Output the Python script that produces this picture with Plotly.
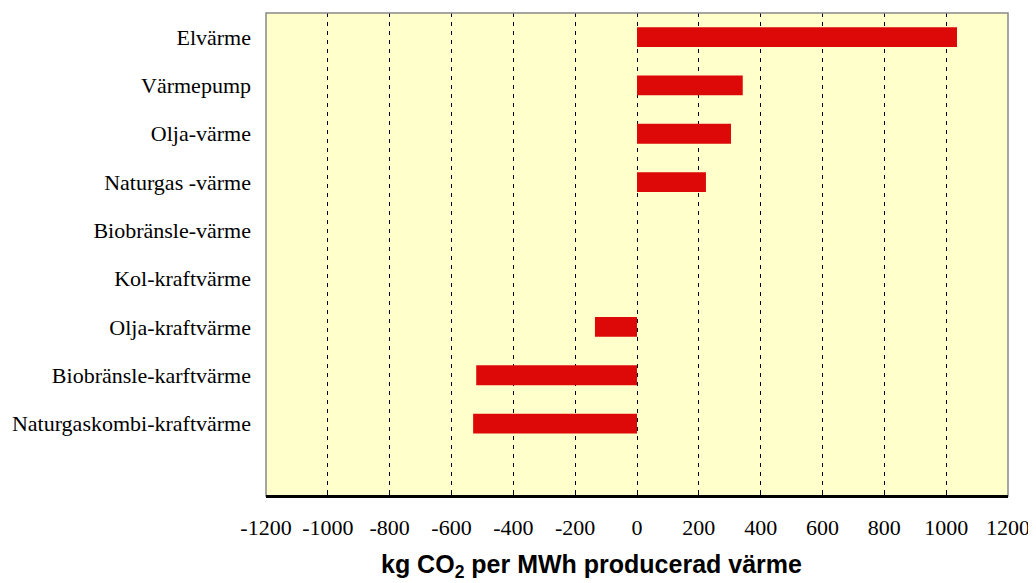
import plotly.graph_objects as go

categories = ["Elvärme", "Värmepump", "Olja-värme", "Naturgas -värme", "Biobränsle-värme",
              "Kol-kraftvärme", "Olja-kraftvärme", "Biobränsle-karftvärme", "Naturgaskombi-kraftvärme"]
values = [1035, 342, 304, 223, 0, 0, -136, -520, -530]
x_ticks = [-1200, -1000, -800, -600, -400, -200, 0, 200, 400, 600, 800, 1000, 1200]

positions = list(range(len(categories)))

fig = go.Figure()
fig.add_trace(go.Bar(
    y=positions, x=values, orientation="h",
    marker=dict(color="#DD0808", line=dict(width=0)),
    width=0.41,
))

# page body has an 8px default margin; compensate so the plot sits where the reference has it
fig.update_layout(
    width=1028, height=575,
    margin=dict(l=258, r=28, t=5, b=87),
    paper_bgcolor="white", plot_bgcolor="#FFFFCC",
    showlegend=False,
    font=dict(family="Liberation Serif", size=22, color="black"),
)
fig.update_xaxes(
    range=[-1200, 1200], tickvals=x_ticks, ticktext=[str(t) for t in x_ticks],
    showgrid=True, gridcolor="black", griddash="4px,5px", gridwidth=1,
    zeroline=False,
    showline=True, linecolor="black", linewidth=2,
    ticks="inside", ticklen=5, tickcolor="black",
    ticklabelstandoff=11,
    tickfont=dict(family="Liberation Serif", size=22, color="black"),
)
fig.update_yaxes(
    range=[9.5, -0.5], tickvals=positions, ticktext=categories,
    showgrid=False, zeroline=False, showline=False,
    ticks="", ticklabelstandoff=14,
    tickfont=dict(family="Liberation Serif", size=22, color="black"),
)
fig.add_shape(type="rect", xref="paper", yref="paper", x0=0, x1=1, y0=0, y1=1,
              line=dict(color="#888888", width=1.5), layer="above")
fig.add_shape(type="line", xref="paper", yref="paper", x0=0, x1=1, y0=0, y1=0,
              line=dict(color="black", width=2), layer="above")
fig.add_annotation(
    text="kg CO<sub>2</sub> per MWh producerad värme",
    xref="paper", yref="paper", x=0.439, y=-0.145, xanchor="center", yanchor="middle",
    showarrow=False,
    font=dict(family="Liberation Sans", size=25, color="black", weight="bold"),
)

fig.write_html("out.html")
